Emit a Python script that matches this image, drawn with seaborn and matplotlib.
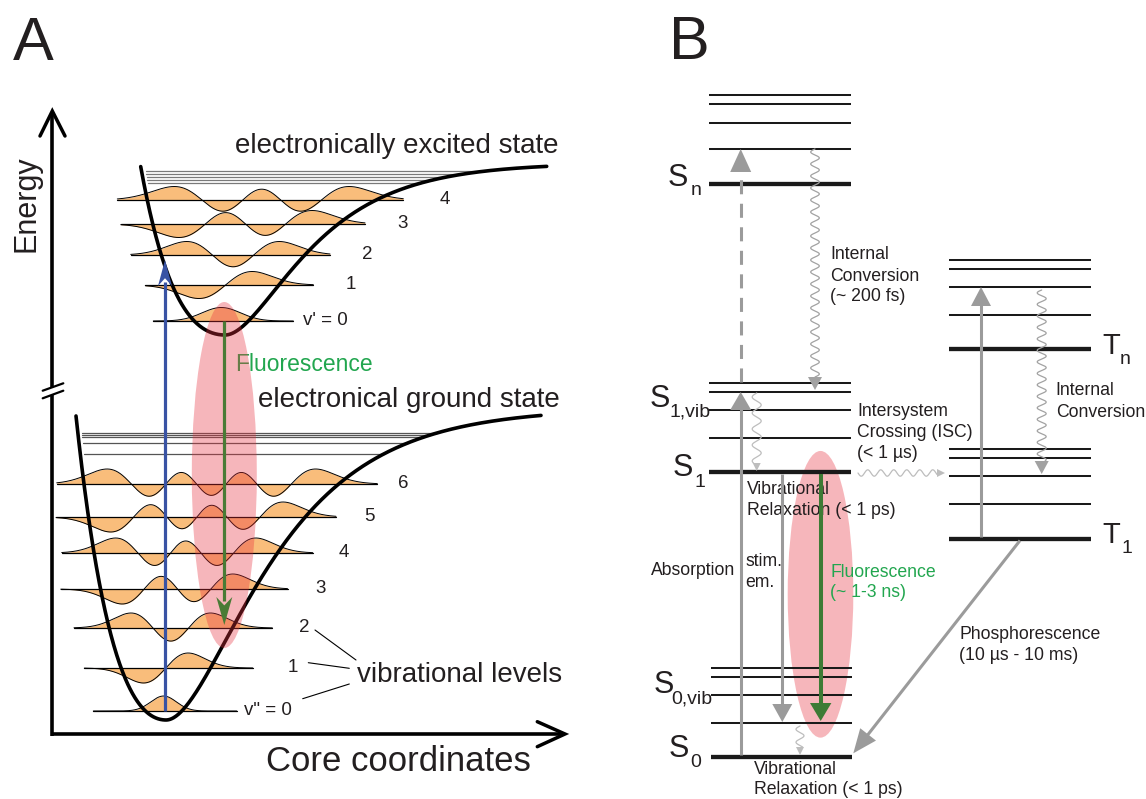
import numpy as np
import matplotlib
matplotlib.use("Agg")
import matplotlib.pyplot as plt
from matplotlib.patches import Ellipse, Polygon
from numpy.polynomial.hermite import hermval
import seaborn as sns

sns.set_theme(style="white")
plt.rcParams["font.family"] = ["Liberation Sans", "DejaVu Sans"]

# ---------------------------------------------------------------- data
# Panel A: vibrational term energies above each potential minimum
ground_levels = [9, 52, 92, 131, 167, 203, 236]
excited_levels = [14, 50, 80, 111, 135]
ground_continuum = [266, 277, 283, 285, 287]
excited_continuum = [152, 155, 158, 161, 164]
ground_labels = ['v" = 0', "1", "2", "3", "4", "5", "6"]
excited_labels = ["v' = 0", "1", "2", "3", "4"]

# Panel B: state energies (S0 = 0)
S0, S1, Sn = 0, 285, 573
S0_vib = [34, 62, 80, 89]
S1_vib = [319, 347, 365, 374]
Sn_vib = [608, 634, 653, 662]
T1, Tn = 218, 408
T1_vib = [253, 281, 299, 308]
Tn_vib = [442, 470, 488, 497]

# ---------------------------------------------------------------- style
TEXT = "#231f20"
ORANGE = "#f9bd7b"
GRAY = "#9b9b9b"
LIGHT = "#bdbdbd"
BLUE = "#3953a4"
OLIVE = "#4a7b36"
DKGREEN = "#3d7b35"
LABEL_GREEN = "#22a64f"
PINK = (0.91, 0.19, 0.24, 0.35)

W, H = 1146, 799
fig = plt.figure(figsize=(W / 100, H / 100), dpi=100)
ax = fig.add_axes([0, 0, 1, 1])

# well geometry: minimum (x0, y0), depth, Morse steepness left/right, drawn range
GROUND = dict(x0=166, y0=720, D=312, aL=0.00763, aR=0.0118, xr=(76, 541))
EXCITED = dict(x0=225, y0=335, D=172, aL=0.00816, aR=0.01436, xr=(140.7, 546.7))
ground_extent = [(93.3, 236.7), (84.3, 252.7), (74, 272.3), (60.7, 287.5),
                 (61.7, 312.7), (56, 336), (56.7, 377.3)]
excited_extent = [(153.3, 293.3), (145.3, 313.3), (130.7, 330), (120.7, 365),
                  (117.3, 403.3)]
ground_label_dx = [7, 40, 32, 33, 31, 33, 26]
excited_label_dx = [10, 38, 37, 38, 42]


def potential(w, x):
    dx = x - w["x0"]
    left = w["D"] * (np.exp(-w["aL"] * dx) - 1) ** 2
    right = w["D"] * (1 - np.exp(-w["aR"] * dx)) ** 2
    return np.where(dx < 0, left, right)


def turning(w, E):
    r = np.sqrt(E / w["D"])
    return w["x0"] - np.log(1 + r) / w["aL"], w["x0"] - np.log(1 - r) / w["aR"]


def hermite(n, xi):
    c = np.zeros(n + 1)
    c[n] = 1
    grid = np.linspace(-12, 12, 4001)
    norm = np.abs(hermval(grid, c) * np.exp(-grid ** 2 / 2)).max()
    return hermval(xi, c) * np.exp(-xi ** 2 / 2) / norm


def head(tip, d, length, half, color, z=6):
    tip = np.asarray(tip, float)
    d = np.asarray(d, float)
    d = d / np.linalg.norm(d)
    nrm = np.array([-d[1], d[0]])
    base = tip - d * length
    ax.add_patch(Polygon([tip, base + nrm * half, base - nrm * half], closed=True,
                         facecolor=color, edgecolor="none", zorder=z))


def arrow(start, end, color, lw, length, half, z=6, ls="-"):
    start, end = np.asarray(start, float), np.asarray(end, float)
    d = (end - start) / np.linalg.norm(end - start)
    base = end - d * length * 0.85
    ax.plot([start[0], base[0]], [start[1], base[1]], color=color, lw=lw, ls=ls,
            solid_capstyle="butt", dash_capstyle="butt", zorder=z)
    head(end, d, length, half, color, z)


def notched(start, end, color, lw, length, half, z=7):
    start, end = np.asarray(start, float), np.asarray(end, float)
    d = (end - start) / np.linalg.norm(end - start)
    nrm = np.array([-d[1], d[0]])
    base = end - d * length
    ax.plot([start[0], base[0] + d[0] * 4], [start[1], base[1] + d[1] * 4],
            color=color, lw=lw, solid_capstyle="butt", zorder=z)
    notch = end - d * length * 0.7
    ax.add_patch(Polygon([end, base + nrm * half, notch, base - nrm * half],
                         closed=True, facecolor=color, edgecolor="none", zorder=z))


def wavy(start, end, amp, wavelength, color, lw, hlen, hhalf, z=5):
    start, end = np.asarray(start, float), np.asarray(end, float)
    L = np.linalg.norm(end - start)
    d = (end - start) / L
    nrm = np.array([-d[1], d[0]])
    t = np.linspace(0, L - hlen, 600)
    pts = start + np.outer(t, d) + np.outer(amp * np.sin(2 * np.pi * t / wavelength), nrm)
    ax.plot(pts[:, 0], pts[:, 1], color=color, lw=lw, zorder=z)
    head(end, d, hlen, hhalf, color, z)


def txt(x, y, s, size, color=TEXT, ha="left", **kw):
    ax.text(x, y, s, fontsize=size, color=color, va="baseline", ha=ha, **kw)


# ================================================================ panel A
for w in (GROUND, EXCITED):
    xs = np.linspace(*w["xr"], 800)
    sns.lineplot(x=xs, y=w["y0"] - potential(w, xs), ax=ax, color="black", lw=2.6,
                 sort=False, estimator=None, legend=False, zorder=4)


def draw_levels(w, energies, extents, amp, labels, label_dx):
    for n, (E, (xa, xb)) in enumerate(zip(energies, extents)):
        y = w["y0"] - E
        xl, xr = turning(w, E)
        c = 0.5 * (xl + xr)
        s = 0.5 * (xr - xl) / np.sqrt(2 * n + 2)
        xs = np.linspace(xa, xb, 600)
        yw = y - amp * hermite(n, (xs - c) / s)
        ax.fill_between(xs, y, yw, color=ORANGE, lw=0, zorder=2)
        ax.plot(xs, yw, color="black", lw=0.7, zorder=2.5)
        ax.plot([xa, xb], [y, y], color="black", lw=0.9, zorder=3)
        txt(xb + label_dx[n], y + 4, labels[n], 13.5, ha="left" if n == 0 else "center")


draw_levels(GROUND, ground_levels, ground_extent, 15, ground_labels, ground_label_dx)
draw_levels(EXCITED, excited_levels, excited_extent, 13.5, excited_labels, excited_label_dx)

for w, energies, shade in ((GROUND, ground_continuum, "#555555"),
                           (EXCITED, excited_continuum, "#7a7a7a")):
    for E in energies:
        xl, xr = turning(w, E)
        y = w["y0"] - E
        ax.plot([xl + 4, xr], [y, y], color=shade, lw=0.9, zorder=3)

# transitions in panel A
ax.add_patch(Ellipse((224.3, 475), 65, 346, facecolor=PINK, edgecolor="none", zorder=5))
notched((165, GROUND["y0"] - ground_levels[0]), (165, EXCITED["y0"] - excited_levels[2] + 5),
        BLUE, 2.3, 26, 7)
notched((224.3, EXCITED["y0"] - excited_levels[0]), (224.3, GROUND["y0"] - ground_levels[2] - 3),
        OLIVE, 2.3, 28, 8)

# axes with arrows and break
ax.plot([52.3, 52.3], [735.5, 111.5], color="black", lw=2.6, solid_capstyle="butt", zorder=4)
ax.plot([50.8, 564], [734, 734], color="black", lw=2.6, solid_capstyle="butt", zorder=4)
ax.plot([40, 52.3, 65], [136, 111, 136], color="black", lw=2.5, zorder=4,
        solid_joinstyle="miter")
ax.plot([537.3, 565, 537.3], [721.7, 734, 746.7], color="black", lw=2.5, zorder=4,
        solid_joinstyle="miter")
ax.add_patch(Polygon([(42.7, 390.7), (63.3, 383.3), (63.3, 390.7), (42.7, 398.3)],
                     closed=True, facecolor="white", edgecolor="none", zorder=5))
ax.plot([42.7, 63.3], [390.7, 383.3], color="black", lw=1.6, zorder=6)
ax.plot([42.7, 63.3], [398.3, 390.7], color="black", lw=1.6, zorder=6)

# leader lines to "vibrational levels"
for (x0, y0), (x1, y1) in [((315, 630), (356, 660)), ((308.3, 662.7), (349.3, 668.3)),
                           ((302.7, 698.7), (349.3, 684))]:
    ax.plot([x0, x1], [y0, y1], color="black", lw=0.8, zorder=4)

txt(13.3, 60, "A", 44)
ax.text(27, 204, "Energy", fontsize=22, color=TEXT, rotation=90, ha="center", va="center")
txt(235, 153, "electronically excited state", 20)
txt(258.3, 406.7, "electronical ground state", 20)
txt(235, 370.7, "Fluorescence", 16.5, LABEL_GREEN)
txt(357.3, 681.7, "vibrational levels", 20)
txt(266, 770.7, "Core coordinates", 25)


# ================================================================ panel B
def yB(E):
    return 757 - float(E)


SX = (709, 851)
S0X = (711, 852)
TX = (949, 1091)
THICK, THIN = 3.1, 1.45

ax.add_patch(Ellipse((820.5, 594.3), 65.6, 286.7, facecolor=PINK, edgecolor="none", zorder=2))

for xr, main, vibs in ((S0X, S0, S0_vib), (SX, S1, S1_vib), (SX, Sn, Sn_vib),
                       (TX, T1, T1_vib), (TX, Tn, Tn_vib)):
    ax.plot(xr, [yB(main)] * 2, color="#1a1a1a", lw=THICK, solid_capstyle="butt", zorder=3)
    for E in vibs:
        ax.plot(xr, [yB(E)] * 2, color="#1a1a1a", lw=THIN, solid_capstyle="butt", zorder=3)

# radiative and excitation arrows
arrow((740.7, yB(S0) - 2), (740.7, yB(S1_vib[2])), GRAY, 2.2, 18, 10.5)
arrow((740.7, yB(S1_vib[2]) - 10), (740.7, yB(Sn_vib[0])), GRAY, 2.2, 23, 10.5,
      ls=(0, (4.6, 3.1)))
arrow((782.3, yB(S1) + 2), (782.3, yB(S0_vib[0]) - 1), GRAY, 2.2, 18, 10)
arrow((981, yB(T1) - 2), (981, yB(Tn_vib[1])), GRAY, 2.2, 19, 10)
arrow((1020, yB(T1) + 1.5), (853.3, yB(S0) - 3.7), GRAY, 2.2, 24, 10)
arrow((820.7, yB(S1) + 2), (820.7, yB(S0_vib[0]) - 2), DKGREEN, 2.9, 18, 10.7, z=7)

# non-radiative transitions
wavy((815, yB(Sn_vib[0])), (815, yB(S1_vib[2]) - 2), 4.3, 12, "#a2a2a2", 0.9, 13, 7)
wavy((756.7, yB(S1_vib[2]) + 1), (756.7, yB(S1) - 1), 4.5, 16, LIGHT, 0.9, 8, 4)
wavy((858, yB(S1) + 1), (945, yB(S1) + 1), 3.2, 13, LIGHT, 0.9, 8, 4)
wavy((1041.7, yB(Tn_vib[1]) + 3), (1041.7, yB(T1_vib[1]) - 2), 4.5, 11.5, "#a2a2a2", 0.9, 13, 7)
wavy((800, yB(S0_vib[0]) + 3), (800, yB(S0) - 2), 4, 13, LIGHT, 0.9, 8, 4)

# state labels
for x, y, s, size in [(667.7, 186, "S", 22), (690.7, 195, "n", 14),
                      (649.3, 406.7, "S", 22), (669.3, 416.7, "1,vib", 14),
                      (673, 476, "S", 22), (694, 486.7, "1", 14),
                      (653.3, 693.3, "S", 22), (671.7, 703.3, "0,vib", 14),
                      (668.3, 756.7, "S", 22), (690.7, 767.3, "0", 14),
                      (1102.7, 354, "T", 21), (1120, 364, "n", 14),
                      (1102.7, 543.3, "T", 21), (1121.7, 553.3, "1", 14)]:
    txt(x, y, s, size)

B_SIZE = 12.7
for x, y, s, color in [(830, 259.3, "Internal", TEXT), (830, 280.7, "Conversion", TEXT),
                       (830, 300.7, "(~ 200 fs)", TEXT),
                       (857.3, 416, "Intersystem", TEXT), (857.3, 436.7, "Crossing (ISC)", TEXT),
                       (857.3, 458.3, "(< 1 µs)", TEXT),
                       (1055.7, 395, "Internal", TEXT), (1055.7, 416.7, "Conversion", TEXT),
                       (747.3, 494, "Vibrational", TEXT), (747.3, 515, "Relaxation (< 1 ps)", TEXT),
                       (650.7, 575, "Absorption", TEXT),
                       (745.7, 566, "stim.", TEXT), (745.7, 586.7, "em.", TEXT),
                       (830, 576.7, "Fluorescence", LABEL_GREEN),
                       (830, 596.7, "(~ 1-3 ns)", LABEL_GREEN),
                       (959.3, 639, "Phosphorescence", TEXT), (959.3, 660, "(10 µs - 10 ms)", TEXT),
                       (754, 774.3, "Vibrational", TEXT), (754, 794, "Relaxation (< 1 ps)", TEXT)]:
    txt(x, y, s, B_SIZE, color)

txt(669.3, 59.3, "B", 44)

ax.set_xlim(0, W)
ax.set_ylim(H, 0)
ax.set_axis_off()
fig.savefig("out.png", dpi=100, facecolor="white")
